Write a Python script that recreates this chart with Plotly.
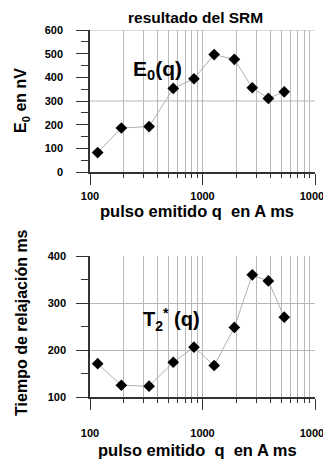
import plotly.graph_objects as go

# ---- data ----
q_pulse = [117, 190, 335, 550, 840, 1270, 1920, 2770, 3850, 5330]
e0_nv = [82, 186, 192, 353, 394, 496, 476, 356, 311, 339]
t2_ms = [171, 125, 123, 174, 206, 167, 248, 360, 347, 270]

FONT = "Liberation Sans, Arial, sans-serif"
GRID = "#b8b8b8"
AXC = "#333333"

fig = go.Figure()
for yv, xa, ya in [(e0_nv, "x", "y"), (t2_ms, "x2", "y2")]:
    fig.add_trace(go.Scatter(
        x=q_pulse, y=yv, xaxis=xa, yaxis=ya, mode="lines+markers",
        line=dict(color="#b0b0b0", width=1),
        marker=dict(symbol="diamond", size=9, color="black"),
        showlegend=False, hoverinfo="skip"))

tickfont = dict(family=FONT, size=11, color="black", weight="bold")

def xaxis_cfg(anchor, standoff):
    return dict(
        type="log", range=[2, 4], anchor=anchor, dtick=1, tickformat="d",
        automargin=False,
        showline=True, linecolor=AXC, linewidth=1.5,
        ticks="outside", ticklen=11, tickcolor=AXC, tickwidth=1.2,
        showgrid=True, gridcolor=GRID, gridwidth=1, zeroline=False,
        ticklabelstandoff=standoff, tickfont=tickfont,
        minor=dict(dtick="D1", ticks="outside", ticklen=4, tickcolor=AXC,
                   tickwidth=1.2, showgrid=True, gridcolor=GRID, gridwidth=1),
    )

def yaxis_cfg(anchor, domain, rng, grid, standoff):
    return dict(
        range=rng, domain=domain, anchor=anchor, dtick=100, automargin=False,
        showline=True, linecolor=AXC, linewidth=1.5,
        ticks="outside", ticklen=12, tickcolor=AXC, tickwidth=1.2,
        showgrid=grid, gridcolor=GRID, gridwidth=1, zeroline=False,
        ticklabelstandoff=standoff, tickfont=tickfont,
        minor=dict(dtick=50, ticks="outside", ticklen=7, tickcolor=AXC, tickwidth=1.2),
    )

# page body adds an 8px offset; the figure extends past the window edge so
# nothing is clipped at the right / bottom of the visible area
fig.update_layout(
    width=331, height=461,
    margin=dict(l=82, r=24, t=22, b=72, autoexpand=False),
    paper_bgcolor="white", plot_bgcolor="white",
    xaxis=xaxis_cfg("y", 2),
    xaxis2=xaxis_cfg("y2", 14),
    yaxis=yaxis_cfg("x", [0.613, 1.0], [0, 600], False, 11),
    yaxis2=yaxis_cfg("x2", [0.0, 0.384], [100, 400], True, 8),
)

# gridlines at 300 and 600 in top panel
for yv in [300, 600]:
    fig.add_shape(type="line", xref="x domain", yref="y", x0=0, x1=1, y0=yv, y1=yv,
                  line=dict(color=GRID, width=1), layer="below")

bold = dict(family=FONT, color="black", weight="bold")
ann = [
    dict(text="<b>resultado del SRM</b>", x=0.467, y=1.033, font=dict(size=15.5, **bold)),
    dict(text="<b>pulso emitido q  en A ms</b>", x=0.476, y=0.508, font=dict(size=16.5, **bold)),
    dict(text="<b>pulso emitido  q  en A ms</b>", x=0.476, y=-0.144, font=dict(size=16.5, **bold)),
    dict(text="<b>E<sub>0</sub> en nV</b>", x=-0.302, y=0.807, textangle=-90, font=dict(size=16, **bold)),
    dict(text="<b>Tiempo de relajación ms</b>", x=-0.302, y=0.202, textangle=-90, font=dict(size=16, **bold)),
    dict(text="<b>E<sub>0</sub>(q)</b>", x=0.298, y=0.891, font=dict(size=21, **bold)),
    dict(text="<b>T<sub>2</sub><sup>*</sup> (q)</b>", x=0.364, y=0.210, font=dict(size=20, **bold)),
]
for a in ann:
    fig.add_annotation(xref="paper", yref="paper", showarrow=False,
                       xanchor="center", yanchor="middle", **a)

fig.write_html("out.html")
